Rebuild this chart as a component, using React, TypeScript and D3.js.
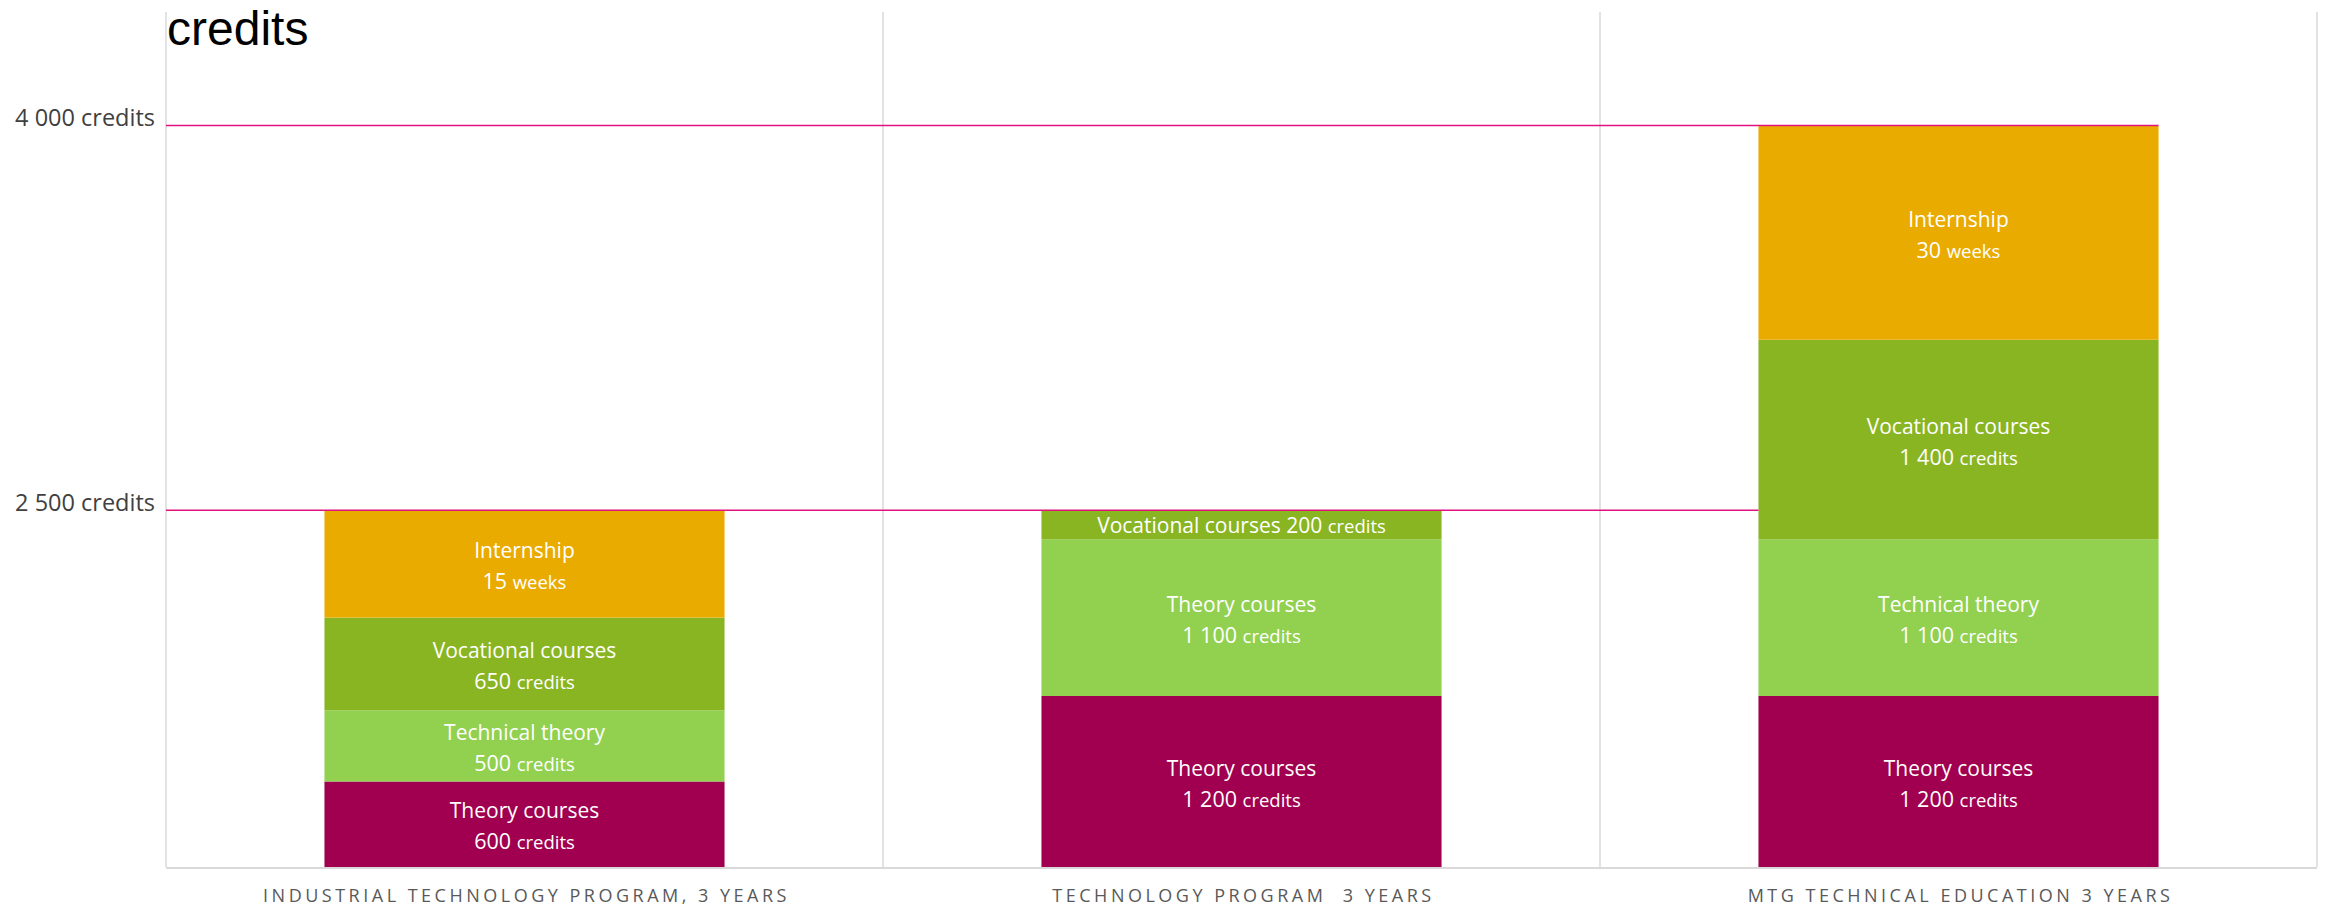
import React, { useEffect } from "react";
import * as d3 from "d3";

// ---- data ----
const categories = [
  "INDUSTRIAL TECHNOLOGY PROGRAM, 3 YEARS",
  "TECHNOLOGY PROGRAM  3 YEARS",
  "MTG TECHNICAL EDUCATION 3 YEARS",
];
const segmentKeys = ["theory", "technical", "vocational", "internship"];
// bar heights in chart units (internship drawn at ~50 units per week)
const theoryValues = [600, 1200, 1200];
const technicalValues = [500, 1100, 1100];
const vocationalValues = [650, 200, 1400];
const internshipValues = [750, 0, 1500];

const theoryNames = ["Theory courses", "Theory courses", "Theory courses"];
const technicalNames = ["Technical theory", "Theory courses", "Technical theory"];
const vocationalNames = ["Vocational courses", "Vocational courses", "Vocational courses"];
const internshipNames = ["Internship", "", "Internship"];

const theoryAmounts = ["600", "1 200", "1 200"];
const technicalAmounts = ["500", "1 100", "1 100"];
const vocationalAmounts = ["650", "200", "1 400"];
const internshipAmounts = ["15", "", "30"];

const theoryUnits = ["credits", "credits", "credits"];
const technicalUnits = ["credits", "credits", "credits"];
const vocationalUnits = ["credits", "credits", "credits"];
const internshipUnits = ["weeks", "", "weeks"];

const singleLine = [
  [false, false, false, false],
  [false, false, true, false],
  [false, false, false, false],
];

const refValues = [2500, 5200];
const refLabels = ["2 500 credits", "4 000 credits"];
const refEndsAtBarRight = [false, true];

const yMax = 6000;
const titleText = "credits";

const colors: Record<string, string> = {
  theory: "#a0004f",
  technical: "#92d050",
  vocational: "#8ab523",
  internship: "#eaab00",
};

// ---- layout ----
const W = 2326;
const H = 907;
const plotLeft = 166;
const plotRight = 2317;
const plotTop = 12;
const plotBottom = 867;

export default function App() {
  useEffect(() => {
    document.body.style.margin = "0";
  }, []);

  const x = d3
    .scaleBand<string>()
    .domain(categories)
    .range([plotLeft, plotRight])
    .paddingInner(0.442)
    .paddingOuter(0.221);
  const y = d3.scaleLinear().domain([0, yMax]).range([plotBottom, plotTop]);

  const rows = categories.map((c, i) => ({
    cat: c,
    theory: theoryValues[i],
    technical: technicalValues[i],
    vocational: vocationalValues[i],
    internship: internshipValues[i],
  }));
  const stack = d3.stack<any>().keys(segmentKeys);
  const series = stack(rows);

  const names: Record<string, string[]> = {
    theory: theoryNames,
    technical: technicalNames,
    vocational: vocationalNames,
    internship: internshipNames,
  };
  const amounts: Record<string, string[]> = {
    theory: theoryAmounts,
    technical: technicalAmounts,
    vocational: vocationalAmounts,
    internship: internshipAmounts,
  };
  const units: Record<string, string[]> = {
    theory: theoryUnits,
    technical: technicalUnits,
    vocational: vocationalUnits,
    internship: internshipUnits,
  };

  const step = x.step();
  const bw = x.bandwidth();
  const boundaries = d3.range(categories.length + 1).map((i) => plotLeft + i * step);
  const lastCat = categories[categories.length - 1];

  const font = "'Open Sans', 'Noto Sans', sans-serif";

  return (
    <div style={{ position: "absolute", left: 0, top: 0 }}>
      <svg width={W} height={H} style={{ display: "block" }}>
        <rect x={0} y={0} width={W} height={H} fill="#ffffff" />
        {/* vertical separators */}
        {boundaries.map((bx, i) => (
          <line key={i} x1={bx} x2={bx} y1={plotTop} y2={plotBottom} stroke="#d9d9d9" strokeWidth={1.5} />
        ))}
        {/* bars */}
        {series.map((s) =>
          s.map((d, i) => {
            const v = d[1] - d[0];
            if (v <= 0) return null;
            return (
              <rect
                key={s.key + i}
                x={x(categories[i])}
                y={y(d[1])}
                width={bw}
                height={y(d[0]) - y(d[1])}
                fill={colors[s.key]}
              />
            );
          })
        )}
        {/* bottom axis */}
        <line x1={plotLeft} x2={plotRight} y1={plotBottom + 1} y2={plotBottom + 1} stroke="#d9d9d9" strokeWidth={2} />
        {/* reference lines */}
        {refValues.map((v, i) => (
          <line
            key={i}
            x1={plotLeft}
            x2={(x(lastCat) as number) + (refEndsAtBarRight[i] ? bw : 0)}
            y1={y(v) - 0.5}
            y2={y(v) - 0.5}
            stroke="#e2127c"
            strokeWidth={1.6}
          />
        ))}
        {refValues.map((v, i) => (
          <text
            key={i}
            x={155}
            y={y(v)}
            textAnchor="end"
            fontFamily={font}
            fontSize={23.5}
            fill="#404040"
          >
            {refLabels[i]}
          </text>
        ))}
        {/* segment labels */}
        {series.map((s) =>
          s.map((d, i) => {
            const v = d[1] - d[0];
            if (v <= 0) return null;
            const key = s.key as string;
            const cx = (x(categories[i]) as number) + bw / 2;
            const cy = (y(d[0]) + y(d[1])) / 2;
            const segIndex = segmentKeys.indexOf(key);
            if (singleLine[i][segIndex]) {
              return (
                <text key={key + i} x={cx} y={cy + 7.5} textAnchor="middle" fontFamily={font} fontSize={21} fill="#ffffff">
                  {names[key][i] + " " + amounts[key][i] + " "}
                  <tspan fontSize={18.5}>{units[key][i]}</tspan>
                </text>
              );
            }
            return (
              <g key={key + i}>
                <text x={cx} y={cy - 6} textAnchor="middle" fontFamily={font} fontSize={21} fill="#ffffff">
                  {names[key][i]}
                </text>
                <text x={cx} y={cy + 25} textAnchor="middle" fontFamily={font} fontSize={21.5} fill="#ffffff">
                  {amounts[key][i] + " "}
                  <tspan fontSize={18.5}>{units[key][i]}</tspan>
                </text>
              </g>
            );
          })
        )}
        {/* category labels */}
        {categories.map((c) => (
          <text
            key={c}
            x={(x(c) as number) + bw / 2 + 2}
            y={902}
            textAnchor="middle"
            fontFamily={font}
            fontSize={18}
            letterSpacing={3.5}
            fill="#595959"
            style={{ whiteSpace: "pre" }}
          >
            {c}
          </text>
        ))}
        {/* title */}
        <text x={167} y={45} fontFamily="'Liberation Sans', Arial, sans-serif" fontSize={48} fill="#000000">
          {titleText}
        </text>
      </svg>
    </div>
  );
}
